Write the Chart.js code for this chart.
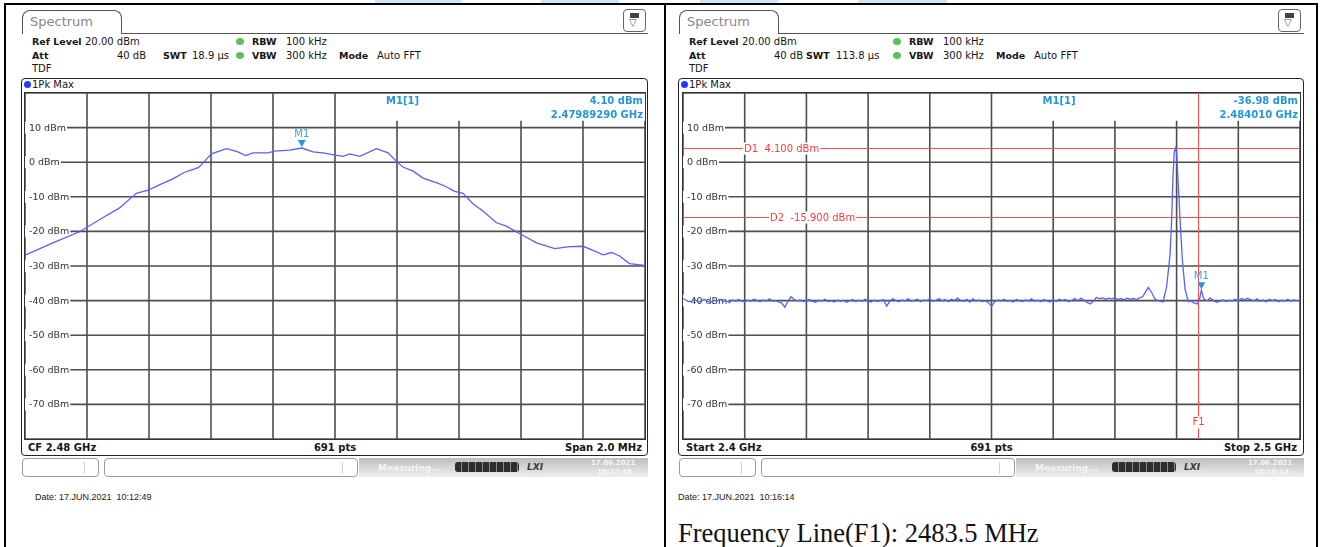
<!DOCTYPE html>
<html>
<head>
<meta charset="utf-8">
<script src="https://cdn.jsdelivr.net/npm/chart.js@4.4.1/dist/chart.umd.min.js"></script>
<style>
  html, body { margin: 0; padding: 0; background: #fff; }
  body { position: relative; width: 1322px; height: 547px; overflow: hidden;
    font-family: "DejaVu Sans", sans-serif; font-size: 10px; color: #161616; }
  .a { position: absolute; white-space: nowrap; line-height: 12px; }
  .b { font-weight: bold; font-size: 9.5px; }
  .rule { position: absolute; background: #000; }
  .hl { position: absolute; top: 0; height: 3px; background: #cde6fa; }
  .tab { position: absolute; top: 10px; width: 100px; height: 24px; box-sizing: border-box;
    border: 1px solid #555; border-bottom: none; border-radius: 8px 8px 0 0; background: #fff;
    color: #888; font-size: 13px; line-height: 22px; padding-left: 7px; }
  .tabline { position: absolute; top: 33px; height: 1px; background: #555; }
  .icon { position: absolute; top: 9px; width: 23px; height: 23px; box-sizing: border-box;
    border: 1px solid #666; border-radius: 4px; background: #fff; }
  .icon .bat { position: absolute; left: 6px; top: 3px; width: 9px; height: 5px; background: #444; }
  .icon .tri { position: absolute; left: 5px; top: 7px; font-size: 10px; line-height: 12px; color: #555; }
  .gdot { position: absolute; width: 8px; height: 7px; border-radius: 50%; background: #5cbf5c; }
  .frame { position: absolute; top: 78px; height: 378px; box-sizing: border-box;
    border: 1.5px solid #222; border-radius: 4px; }
  .bdot { position: absolute; width: 7px; height: 7px; border-radius: 50%; background: #1f3cff; }
  .plotbox { position: absolute; top: 92px; height: 348px; box-sizing: border-box; border: 1px solid #333; }
  canvas { position: absolute; top: 93px; }
  .sbox { position: absolute; top: 458px; height: 19px; box-sizing: border-box;
    border: 1px solid #9a9a9a; border-radius: 4px; background: #fff; }
  .sdiv { position: absolute; top: 462px; width: 1px; height: 12px; background: #d0d0d0; }
  .sbar { position: absolute; top: 458px; height: 19px;
    background: linear-gradient(to bottom, #bdbdbd 0%, #d6d6d6 50%, #efefef 100%); }
  .prog { position: absolute; top: 462px; height: 10px; border-radius: 3px; background: #2e2e2e;
    background-image: repeating-linear-gradient(to right, #2e2e2e 0 6px, #8a8a8a 6px 7px); }
</style>
</head>
<body>
<script>
// ---- data ----
const levelGrid = [20, 10, 0, -10, -20, -30, -40, -50, -60, -70, -80];
const labelLevels = [10, 0, -10, -20, -30, -40, -50, -60, -70];
const levelLabels = ['10 dBm', '0 dBm', '-10 dBm', '-20 dBm', '-30 dBm', '-40 dBm', '-50 dBm', '-60 dBm', '-70 dBm'];

// left: CF 2.48 GHz, span 2 MHz (MHz)
const leftGrid = [2479.0, 2479.2, 2479.4, 2479.6, 2479.8, 2480.0, 2480.2, 2480.4, 2480.6, 2480.8, 2481.0];
const leftFreq = [2479.000, 2479.090, 2479.176, 2479.252, 2479.305, 2479.359, 2479.397, 2479.435, 2479.477,
  2479.515, 2479.545, 2479.560, 2479.580, 2479.601, 2479.650, 2479.687, 2479.712, 2479.735, 2479.784, 2479.805,
  2479.854, 2479.893, 2479.929, 2479.967, 2480.005, 2480.026, 2480.047, 2480.080, 2480.134, 2480.171, 2480.203,
  2480.219, 2480.252, 2480.284, 2480.327, 2480.359, 2480.386, 2480.413, 2480.445, 2480.477, 2480.521, 2480.553,
  2480.601, 2480.650, 2480.709, 2480.757, 2480.800, 2480.832, 2480.865, 2480.892, 2480.918, 2480.950, 2481.000];
const leftLevel = [-26.9, -23.3, -20.1, -16.0, -13.2, -9.0, -8.1, -6.5, -4.8,
  -2.9, -2.0, -1.5, 0.3, 2.4, 3.9, 3.0, 1.9, 2.7, 2.7, 3.2,
  3.5, 4.1, 3.0, 2.6, 2.0, 1.7, 2.4, 1.7, 3.9, 2.7, -0.2,
  -1.4, -2.6, -4.6, -5.9, -7.1, -8.4, -9.0, -12.0, -14.1, -17.5, -18.5,
  -20.9, -23.3, -25.0, -24.4, -24.3, -25.5, -26.8, -26.1, -27.1, -29.3, -29.8];
const leftMarker = { freq: 2479.8929, level: 4.10, value: '4.10 dBm', pos: '2.47989290 GHz' };

// right: 2.4 GHz .. 2.5 GHz (MHz)
const rightGrid = [2400, 2410, 2420, 2430, 2440, 2450, 2460, 2470, 2480, 2490, 2500];
const rightFreq = [
  2400, 2400.5, 2401, 2401.5, 2402, 2402.5, 2403, 2403.5, 2404, 2404.5,
  2405, 2405.5, 2406, 2406.5, 2407, 2407.5, 2408, 2408.5, 2409, 2409.5,
  2410, 2410.5, 2411, 2411.5, 2412, 2412.5, 2413, 2413.5, 2414, 2414.5,
  2415, 2415.5, 2416, 2416.5, 2417, 2417.5, 2418, 2418.5, 2419, 2419.5,
  2420, 2420.5, 2421, 2421.5, 2422, 2422.5, 2423, 2423.5, 2424, 2424.5,
  2425, 2425.5, 2426, 2426.5, 2427, 2427.5, 2428, 2428.5, 2429, 2429.5,
  2430, 2430.5, 2431, 2431.5, 2432, 2432.5, 2433, 2433.5, 2434, 2434.5,
  2435, 2435.5, 2436, 2436.5, 2437, 2437.5, 2438, 2438.5, 2439, 2439.5,
  2440, 2440.5, 2441, 2441.5, 2442, 2442.5, 2443, 2443.5, 2444, 2444.5,
  2445, 2445.5, 2446, 2446.5, 2447, 2447.5, 2448, 2448.5, 2449, 2449.5,
  2450, 2450.5, 2451, 2451.5, 2452, 2452.5, 2453, 2453.5, 2454, 2454.5,
  2455, 2455.5, 2456, 2456.5, 2457, 2457.5, 2458, 2458.5, 2459, 2459.5,
  2460, 2460.5, 2461, 2461.5, 2462, 2462.5, 2463, 2463.5, 2464, 2464.5,
  2465, 2465.5, 2466, 2466.5, 2467, 2467.5, 2468, 2468.5, 2469, 2469.5,
  2470, 2470.5, 2471, 2471.5, 2472, 2472.5, 2473, 2473.5, 2474, 2474.5,
  2475, 2475.4, 2476, 2476.5, 2477, 2477.8, 2478.4, 2478.94, 2479.2, 2479.4,
  2479.6, 2479.8, 2480.0, 2480.28, 2480.56, 2480.93, 2481.37, 2481.9, 2482.3, 2482.7,
  2483.3, 2483.7, 2484.01, 2484.4, 2485.0, 2485.4, 2486.0, 2486.5,
  2487, 2487.5, 2488, 2488.5, 2489, 2489.5, 2490, 2490.5, 2491, 2491.5,
  2492, 2492.5, 2493, 2493.5, 2494, 2494.5, 2495, 2495.5, 2496, 2496.5,
  2497, 2497.5, 2498, 2498.5, 2499, 2499.5, 2500];
const rightLevel = [
  -39.4, -39.9, -40.3, -40.1, -39.8, -40.4, -40.0, -39.7, -40.2, -40.5,
  -39.9, -40.1, -39.6, -40.3, -40.0, -40.6, -39.8, -40.2, -39.7, -40.1,
  -40.4, -39.9, -40.2, -39.6, -40.0, -40.3, -39.8, -40.1, -39.5, -40.2,
  -40.0, -40.4, -40.7, -41.9, -40.2, -38.9, -39.6, -40.1, -39.8, -40.3,
  -40.0, -39.7, -40.2, -40.5, -39.9, -40.1, -39.6, -40.3, -40.0, -40.4,
  -39.8, -40.2, -39.9, -40.5, -40.1, -39.7, -40.3, -39.9, -40.2, -39.6,
  -40.1, -40.4, -39.8, -40.2, -40.0, -39.7, -41.6, -40.3, -39.5, -40.0,
  -40.3, -39.8, -40.1, -39.5, -40.2, -39.9, -39.6, -40.3, -39.8, -40.0,
  -39.5, -40.2, -39.9, -39.4, -40.1, -39.7, -40.3, -39.6, -40.0, -39.3,
  -39.9, -40.2, -39.6, -40.4, -39.5, -40.1, -39.8, -40.3, -40.0, -40.6,
  -41.7, -40.4, -39.8, -40.1, -39.6, -40.2, -39.9, -40.4, -39.7, -40.0,
  -40.3, -39.8, -40.1, -39.5, -40.2, -39.9, -40.3, -39.7, -40.1, -40.4,
  -39.8, -40.2, -39.6, -40.0, -39.7, -40.3, -39.9, -39.4, -40.1, -39.3,
  -39.9, -40.5, -41.0, -40.2, -39.1, -39.4, -39.2, -39.6, -39.3, -39.5,
  -39.2, -39.7, -39.4, -39.8, -39.3, -39.6, -39.4, -39.7, -39.2, -38.9,
  -37.4, -36.2, -37.8, -39.6, -40.0, -40.4, -35.8, -26.6, -16.5, -5.0,
  2.7, 4.1, 2.7, -6.9, -16.5, -28.1, -36.7, -40.3, -40.1, -40.6,
  -41.0, -39.8, -36.98, -39.5, -40.1, -39.2, -40.0, -40.5,
  -40.2, -39.8, -40.3, -39.9, -40.1, -39.6, -40.2, -39.4, -39.8, -39.3,
  -39.7, -40.1, -39.5, -40.2, -39.8, -40.4, -39.6, -40.0, -39.7, -40.3,
  -39.9, -40.1, -39.6, -40.2, -39.8, -40.0, -40.1];
const rightMarker = { freq: 2484.01, level: -36.98, value: '-36.98 dBm', pos: '2.484010 GHz' };
const displayLines = [{ name: 'D1', level: 4.1, text: 'D1  4.100 dBm', dx: 61 }, { name: 'D2', level: -15.9, text: 'D2  -15.900 dBm', dx: 87 }];
const freqLine = { freq: 2483.5, text: 'F1' };

const leftSetup = { ref: '20.00 dBm', att: '40 dB', swt: '18.9 µs', rbw: '100 kHz', vbw: '300 kHz', mode: 'Auto FFT' };
const rightSetup = { ref: '20.00 dBm', att: '40 dB', swt: '113.8 µs', rbw: '100 kHz', vbw: '300 kHz', mode: 'Auto FFT' };
const leftFoot = ['CF 2.48 GHz', '691 pts', 'Span 2.0 MHz'];
const rightFoot = ['Start 2.4 GHz', '691 pts', 'Stop 2.5 GHz'];

// ---- page furniture ----
const panels = [
  { T: 22, plotX: 25, plotW: 620, frameR: 648, iconX: 623, swtX: 163, swtValX: 192, setup: leftSetup, foot: leftFoot,
    dateX: 35, date: 'Date: 17.JUN.2021&nbsp;&nbsp;10:12:49', clock: '10:12:49', id: 'cvLeft' },
  { T: 679, plotX: 683, plotW: 617, frameR: 1304, iconX: 1278, swtX: 806, swtValX: 836, setup: rightSetup, foot: rightFoot,
    dateX: 678, date: 'Date: 17.JUN.2021&nbsp;&nbsp;10:16:14', clock: '10:16:14', id: 'cvRight' }
];

const html = [];
html.push('<div class="hl" style="left:375px;width:87px"></div><div class="hl" style="left:541px;width:78px"></div>');
html.push('<div class="hl" style="left:700px;width:78px"></div><div class="hl" style="left:858px;width:89px"></div>');
html.push('<div class="rule" style="left:4px;top:3px;width:1314px;height:2px"></div>');
[4, 664, 1316].forEach(x => html.push(`<div class="rule" style="left:${x}px;top:3px;width:2px;height:544px"></div>`));

panels.forEach(p => {
  const T = p.T;
  const t = (x, yc, s, cls = '', st = '') =>
    html.push(`<div class="a ${cls}" style="left:${x}px;top:${yc - 6}px;${st}">${s}</div>`);
  const tr = (xr, yc, s, cls = '') =>
    html.push(`<div class="a ${cls}" style="right:${1322 - xr}px;top:${yc - 6}px">${s}</div>`);
  html.push(`<div class="tab" style="left:${T}px">Spectrum</div>`);
  html.push(`<div class="tabline" style="left:${T + 100}px;width:${p.frameR - T - 100}px"></div>`);
  html.push(`<div class="icon" style="left:${p.iconX}px"><div class="bat"></div><div class="tri">▽</div></div>`);
  t(T + 10, 42, 'Ref Level', 'b'); t(T + 63, 42, p.setup.ref);
  html.push(`<div class="gdot" style="left:${T + 214}px;top:38px"></div>`);
  t(T + 230, 42, 'RBW', 'b'); t(T + 264, 42, p.setup.rbw);
  t(T + 10, 55.5, 'Att', 'b'); tr(T + 124, 55.5, p.setup.att);
  t(p.swtX, 55.5, 'SWT', 'b'); t(p.swtValX, 55.5, p.setup.swt);
  html.push(`<div class="gdot" style="left:${T + 214}px;top:52px"></div>`);
  t(T + 230, 55.5, 'VBW', 'b'); t(T + 264, 55.5, p.setup.vbw);
  t(T + 317, 55.5, 'Mode', 'b'); t(T + 355, 55.5, p.setup.mode);
  t(T + 10, 68.5, 'TDF');

  html.push(`<div class="frame" style="left:${T - 1}px;width:${p.frameR - T + 1}px"></div>`);
  html.push(`<div class="bdot" style="left:${T + 2}px;top:81px"></div>`);
  t(T + 10, 85, '1Pk Max');
  html.push(`<div class="plotbox" style="left:${p.plotX - 1}px;width:${p.plotW + 2}px"></div>`);
  html.push(`<canvas id="${p.id}" width="${p.plotW}" height="346" style="left:${p.plotX}px"></canvas>`);
  t(p.plotX + 3, 447.5, p.foot[0], 'b', 'font-size:10px');
  t(p.plotX + p.plotW / 2, 447.5, p.foot[1], 'b', 'font-size:10px;transform:translateX(-50%)');
  html.push(`<div class="a b" style="font-size:10px;right:${1322 - (p.plotX + p.plotW - 3)}px;top:441.5px">${p.foot[2]}</div>`);

  html.push(`<div class="sbox" style="left:${T}px;width:77px"></div><div class="sdiv" style="left:${T + 62}px"></div>`);
  html.push(`<div class="sbox" style="left:${T + 82}px;width:254px"></div><div class="sdiv" style="left:${T + 320}px"></div>`);
  html.push(`<div class="sbar" style="left:${T + 337}px;width:${p.frameR - T - 337}px"></div>`);
  t(T + 356, 467.5, 'Measuring...', 'b', 'color:#f4f4f4;font-size:9px');
  html.push(`<div class="prog" style="left:${T + 433}px;width:64px"></div>`);
  t(T + 505, 467, 'LXI', 'b', 'color:#3a3a3a;font-style:italic;font-size:9px');
  t(T + 569, 463, '17.06.2021', 'b', 'color:#f6f6f6;font-size:7px');
  t(T + 575, 471.5, p.clock, 'b', 'color:#f6f6f6;font-size:7px');

  t(p.dateX, 497, p.date, '', 'font-family:\'Liberation Sans\';font-size:9px;color:#222');
});
html.push('<div class="a" style="left:678px;top:517px;font-family:\'Liberation Serif\';font-size:26.5px;line-height:32px;color:#111">Frequency Line(F1): 2483.5 MHz</div>');
document.body.insertAdjacentHTML('beforeend', html.join(''));

// ---- drawing of the analyser screen inside each plot area ----
const MK = '#2596d8';
const rsScreen = {
  id: 'rsScreen',
  beforeDatasetsDraw(chart, _args, o) {
    const { ctx, chartArea: a, scales: { x, y } } = chart;
    const boxL = (a.left + a.right) / 2 + 10, boxB = y.getPixelForValue(12);
    ctx.save();
    ctx.lineWidth = 1.6;
    ctx.strokeStyle = '#4e4e4e';
    o.gridX.forEach(v => {
      const px = x.getPixelForValue(v);
      ctx.beginPath(); ctx.moveTo(px, px > boxL ? boxB : a.top); ctx.lineTo(px, a.bottom); ctx.stroke();
    });
    levelGrid.forEach(v => {
      const py = y.getPixelForValue(v);
      ctx.beginPath(); ctx.moveTo(a.left, py); ctx.lineTo(a.right, py); ctx.stroke();
    });
    ctx.font = '9.5px "DejaVu Sans"';
    ctx.textBaseline = 'middle';
    labelLevels.forEach((v, i) => {
      const py = y.getPixelForValue(v), w = ctx.measureText(levelLabels[i]).width;
      ctx.fillStyle = '#fff'; ctx.fillRect(a.left, py - 6, w + 5, 12);
      ctx.fillStyle = '#333'; ctx.fillText(levelLabels[i], a.left + 4, py + 0.5);
    });
    ctx.strokeStyle = '#ff4d4d'; ctx.lineWidth = 1;
    ctx.font = '10px "DejaVu Sans"';
    (o.dLines || []).forEach(d => {
      const py = Math.round(y.getPixelForValue(d.level)) + 0.5, w = ctx.measureText(d.text).width;
      ctx.beginPath(); ctx.moveTo(a.left, py); ctx.lineTo(a.right, py); ctx.stroke();
      ctx.fillStyle = '#fff'; ctx.fillRect(a.left + d.dx - 1, py - 6, w + 2, 12);
      ctx.fillStyle = '#ff3b3b'; ctx.fillText(d.text, a.left + d.dx, py + 0.5);
    });
    if (o.fLine) {
      const px = Math.round(x.getPixelForValue(o.fLine.freq)) + 0.5, py = y.getPixelForValue(-75.2);
      ctx.beginPath(); ctx.moveTo(px, a.top); ctx.lineTo(px, a.bottom); ctx.stroke();
      ctx.textAlign = 'center';
      const w = ctx.measureText(o.fLine.text).width;
      ctx.fillStyle = '#fff'; ctx.fillRect(px - w / 2 - 1, py - 6, w + 2, 12);
      ctx.fillStyle = '#ff3b3b'; ctx.fillText(o.fLine.text, px, py + 0.5);
    }
    ctx.restore();
  },
  afterDatasetsDraw(chart, _args, o) {
    const { ctx, chartArea: a, scales: { x, y } } = chart;
    const m = o.marker, px = x.getPixelForValue(m.freq), py = y.getPixelForValue(m.level);
    ctx.save();
    ctx.fillStyle = MK;
    ctx.beginPath(); ctx.moveTo(px - 4, py - 8); ctx.lineTo(px + 4, py - 8); ctx.lineTo(px, py - 1); ctx.closePath(); ctx.fill();
    ctx.font = '10px "DejaVu Sans"'; ctx.textAlign = 'center'; ctx.textBaseline = 'middle';
    ctx.fillStyle = '#3aa3e3';
    ctx.fillText('M1', px, py - 14);
    ctx.font = 'bold 10px "DejaVu Sans"'; ctx.fillStyle = MK;
    ctx.textAlign = 'left';
    ctx.fillText('M1[1]', (a.left + a.right) / 2 + 51, a.top + 8);
    ctx.textAlign = 'right';
    ctx.fillText(m.value, a.right - 2, a.top + 8);
    ctx.fillText(m.pos, a.right - 2, a.top + 22);
    ctx.restore();
  }
};

function spectrum(id, freq, level, xMin, xMax, opts) {
  return new Chart(document.getElementById(id), {
    type: 'line',
    data: {
      datasets: [{
        data: freq.map((f, i) => ({ x: f, y: level[i] })),
        borderColor: '#5562ff',
        borderWidth: 1.3,
        pointRadius: 0,
        tension: 0
      }]
    },
    options: {
      responsive: false,
      animation: false,
      events: [],
      layout: { padding: 0 },
      plugins: { legend: { display: false }, tooltip: { enabled: false }, rsScreen: opts },
      scales: {
        x: { type: 'linear', min: xMin, max: xMax, display: false },
        y: { type: 'linear', min: -80, max: 20, display: false }
      }
    },
    plugins: [rsScreen]
  });
}

spectrum('cvLeft', leftFreq, leftLevel, 2479, 2481, { gridX: leftGrid, marker: leftMarker });
spectrum('cvRight', rightFreq, rightLevel, 2400, 2500, { gridX: rightGrid, marker: rightMarker, dLines: displayLines, fLine: freqLine });
</script>
</body>
</html>
